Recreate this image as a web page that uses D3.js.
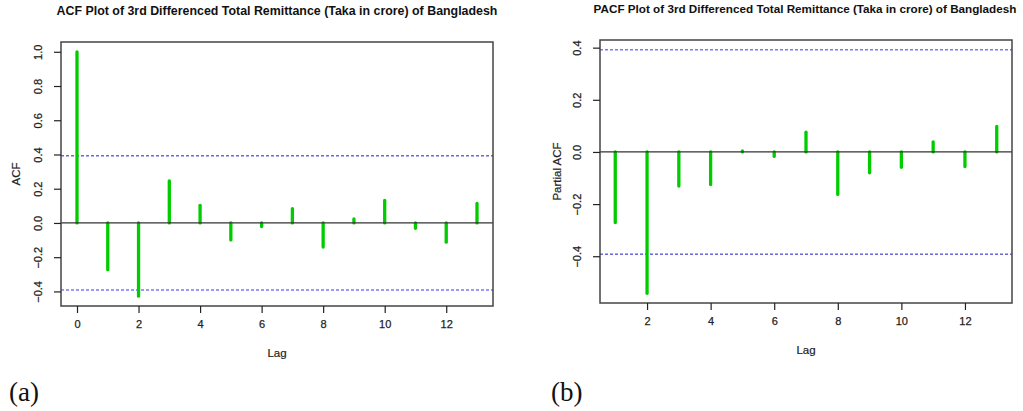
<!DOCTYPE html>
<meta charset="utf-8">
<head>
  <style>
    body { margin: 0; background: #fff; }
    text { font-family: "Liberation Sans", Arial, sans-serif; }
    .tick text { font-size: 11px; fill: #222; stroke: #222; stroke-width: 0.25; }
    .title { font-weight: bold; fill: #111; }
    .axlabel { font-size: 11.5px; fill: #222; stroke: #222; stroke-width: 0.2; }
    .panel { font-family: "Liberation Serif", "Times New Roman", serif; font-size: 27px; fill: #111; }
  </style>
</head>
<body>
  <script src="https://d3js.org/d3.v7.min.js"></script>
  <script>
    // ACF, lags 0..13
    var acfLags = [0, 1, 2, 3, 4, 5, 6, 7, 8, 9, 10, 11, 12, 13];
    var acfValues = [1.0, -0.273, -0.428, 0.246, 0.103, -0.099, -0.021, 0.083, -0.141, 0.023, 0.132, -0.031, -0.112, 0.114];
    // PACF, lags 1..13
    var pacfLags = [1, 2, 3, 4, 5, 6, 7, 8, 9, 10, 11, 12, 13];
    var pacfValues = [-0.271, -0.542, -0.131, -0.125, 0.004, -0.017, 0.076, -0.163, -0.080, -0.059, 0.039, -0.056, 0.098];
    var ciLimit = 0.392;

    var acfXTicks = [0, 2, 4, 6, 8, 10, 12];
    var acfYTicks = [-0.4, -0.2, 0.0, 0.2, 0.4, 0.6, 0.8, 1.0];
    var pacfXTicks = [2, 4, 6, 8, 10, 12];
    var pacfYTicks = [-0.4, -0.2, 0.0, 0.2, 0.4];

    var svg = d3.select("body").append("svg")
      .attr("width", 1023)
      .attr("height", 411);

    function panel(opt) {
      var lags = opt.lags, vals = opt.vals;
      // R style 4% padding on both axes
      var xr = d3.extent(lags), xp = (xr[1] - xr[0]) * 0.04;
      var yr = d3.extent(vals.concat([ciLimit, -ciLimit])), yp = (yr[1] - yr[0]) * 0.04;

      var x = d3.scaleLinear().domain([xr[0] - xp, xr[1] + xp]).range([opt.left, opt.right]);
      var y = d3.scaleLinear().domain([yr[0] - yp, yr[1] + yp]).range([opt.bottom, opt.top]);

      var g = svg.append("g");

      // ci lines
      g.append("line")
        .attr("x1", opt.left).attr("x2", opt.right)
        .attr("y1", y(ciLimit)).attr("y2", y(ciLimit))
        .attr("stroke", opt.upperColor).attr("stroke-width", opt.upperWidth)
        .attr("stroke-dasharray", "3,2");
      g.append("line")
        .attr("x1", opt.left).attr("x2", opt.right)
        .attr("y1", y(-ciLimit)).attr("y2", y(-ciLimit))
        .attr("stroke", opt.lowerColor).attr("stroke-width", opt.lowerWidth)
        .attr("stroke-dasharray", "3,2");

      // spikes
      g.selectAll(".spike")
        .data(lags)
        .enter().append("line")
        .attr("class", "spike")
        .attr("x1", function (d) { return x(d); })
        .attr("x2", function (d) { return x(d); })
        .attr("y1", y(0))
        .attr("y2", function (d, i) { return y(vals[i]); })
        .attr("stroke", "#00cc00")
        .attr("stroke-width", 3.3)
        .attr("stroke-linecap", "round");

      // zero line
      g.append("line")
        .attr("x1", opt.left).attr("x2", opt.right)
        .attr("y1", y(0)).attr("y2", y(0))
        .attr("stroke", "#333").attr("stroke-width", 1.3);

      // box
      g.append("rect")
        .attr("x", opt.left).attr("y", opt.top)
        .attr("width", opt.right - opt.left).attr("height", opt.bottom - opt.top)
        .attr("fill", "none").attr("stroke", "#444").attr("stroke-width", 1.5);

      // x axis
      var xa = g.append("g")
        .attr("transform", "translate(0," + opt.bottom + ")")
        .call(d3.axisBottom(x).tickValues(opt.xTicks).tickSize(7).tickPadding(7).tickFormat(d3.format("d")));
      xa.select(".domain").remove();
      xa.selectAll(".tick line").attr("stroke", "#222").attr("stroke-width", 1.2);

      // y axis, rotated labels as in R
      var ya = g.append("g")
        .attr("transform", "translate(" + opt.left + ",0)")
        .call(d3.axisLeft(y).tickValues(opt.yTicks).tickSize(7).tickFormat(d3.format(".1f")));
      ya.select(".domain").remove();
      ya.selectAll(".tick line").attr("stroke", "#222").attr("stroke-width", 1.2);
      ya.selectAll(".tick text")
        .attr("x", 0).attr("dy", 0)
        .attr("text-anchor", "middle")
        .attr("transform", "translate(-19,0) rotate(-90)")
        .text(function (d) { return d3.format(".1f")(d).replace("-", "\u2212"); });

      // labels
      var cx = (opt.left + opt.right) / 2;
      svg.append("text").attr("class", "title")
        .attr("x", opt.titleX).attr("y", opt.titleY)
        .attr("text-anchor", "middle")
        .style("font-size", opt.titleSize + "px")
        .text(opt.title);
      svg.append("text").attr("class", "axlabel")
        .attr("x", cx).attr("y", opt.bottom + 51)
        .attr("text-anchor", "middle")
        .text("Lag");
      svg.append("text").attr("class", "axlabel")
        .attr("transform", "translate(" + opt.ylabX + "," + ((opt.top + opt.bottom) / 2) + ") rotate(-90)")
        .attr("text-anchor", "middle")
        .text(opt.ylab);
      svg.append("text").attr("class", "panel")
        .attr("x", opt.panelX).attr("y", 401)
        .text(opt.panel);
    }

    panel({
      lags: acfLags, vals: acfValues, xTicks: acfXTicks, yTicks: acfYTicks,
      left: 61, right: 493, top: 42, bottom: 306,
      title: "ACF Plot of 3rd Differenced Total Remittance (Taka in crore) of Bangladesh",
      titleX: 277, titleY: 15, titleSize: 12.4, ylab: "ACF", ylabX: 20, panel: "(a)", panelX: 9,
      upperColor: "#1a1acc", upperWidth: 1, lowerColor: "#7777ff", lowerWidth: 1.6
    });

    panel({
      lags: pacfLags, vals: pacfValues, xTicks: pacfXTicks, yTicks: pacfYTicks,
      left: 600, right: 1012, top: 40, bottom: 303,
      title: "PACF Plot of 3rd Differenced Total Remittance (Taka in crore) of Bangladesh",
      titleX: 805, titleY: 13, titleSize: 11.7, ylab: "Partial ACF", ylabX: 561, panel: "(b)", panelX: 551,
      upperColor: "#7777ff", upperWidth: 1.6, lowerColor: "#1a1acc", lowerWidth: 1
    });
  </script>
</body>
